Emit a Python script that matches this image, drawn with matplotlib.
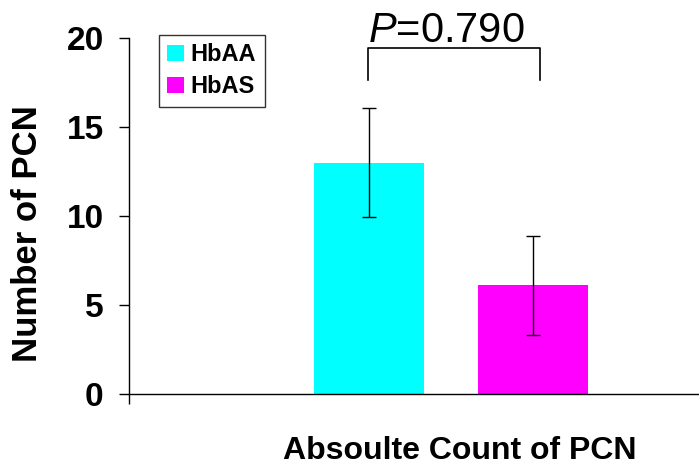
import matplotlib
matplotlib.use("Agg")
import matplotlib.pyplot as plt
from matplotlib.patches import Patch

plt.rcParams['font.family'] = ['Liberation Sans', 'DejaVu Sans']
plt.rcParams['mathtext.fontset'] = 'custom'
plt.rcParams['mathtext.rm'] = 'Liberation Sans'
plt.rcParams['mathtext.it'] = 'Liberation Sans:italic'

# data
groups = ['HbAA', 'HbAS']
means = [13.0, 6.1]
errors = [3.05, 2.8]
colors = ['#00FFFF', '#FF00FF']
p_text = r'$\mathit{P}$=0.790'
yticks = [0, 5, 10, 15, 20]

# bar layout inside the single category
bar_x = [0.422, 0.710]
bar_w = 0.193

fig = plt.figure(figsize=(6.99, 4.67), dpi=100)
ax = fig.add_axes([129 / 699, 1 - 394 / 467, 569 / 699, 356 / 467])

bars = ax.bar(bar_x, means, width=bar_w, color=colors, zorder=2)
ax.errorbar(bar_x, means, yerr=errors, fmt='none', ecolor='black',
            elinewidth=1.0, capsize=5, capthick=1.0, zorder=3)

ax.set_xlim(0, 1)
ax.set_ylim(0, 20)
ax.set_yticks(yticks)
ax.set_yticklabels([str(t) for t in yticks], fontsize=24, fontweight='bold')
ax.set_xticks([0])
ax.set_xticklabels([''])
ax.tick_params(axis='both', direction='out', length=7.2, width=1.0, color='black')
ax.tick_params(axis='y', pad=11)

for side in ['top', 'right']:
    ax.spines[side].set_visible(False)
for side in ['left', 'bottom']:
    ax.spines[side].set_linewidth(1.0)
    ax.spines[side].set_color('black')

ax.set_ylabel('Number of PCN', fontsize=25, fontweight='bold', va='center')
ax.yaxis.set_label_coords(-0.179, 0.452)
ax.set_xlabel('Absoulte Count of PCN', fontsize=23, fontweight='bold', va='baseline')
ax.xaxis.set_label_coords(0.581, -0.182)

# significance bracket
bx0, bx1 = bar_x[0] - 0.002, bar_x[1] + 0.012
by_top, by_leg = 19.44, 17.64
ax.plot([bx0, bx0, bx1, bx1], [by_leg, by_top, by_top, by_leg],
        color='black', linewidth=1.2, clip_on=False, zorder=4)
ax.text(bx0, 19.75, p_text, fontsize=30, ha='left', va='baseline', clip_on=False)

handles = [Patch(facecolor=c, edgecolor='none') for c in colors]
leg = ax.legend(handles, groups, loc='upper left',
                bbox_to_anchor=(159 / 699, 1 - 35 / 467), bbox_transform=fig.transFigure,
                prop={'weight': 'bold', 'size': 17}, frameon=True, fancybox=False,
                handlelength=0.7, handleheight=0.7, handletextpad=0.3,
                labelspacing=0.38, borderpad=0.35, borderaxespad=0)
leg.get_frame().set_edgecolor('black')
leg.get_frame().set_linewidth(1.0)

fig.savefig('out.png', dpi=100)
